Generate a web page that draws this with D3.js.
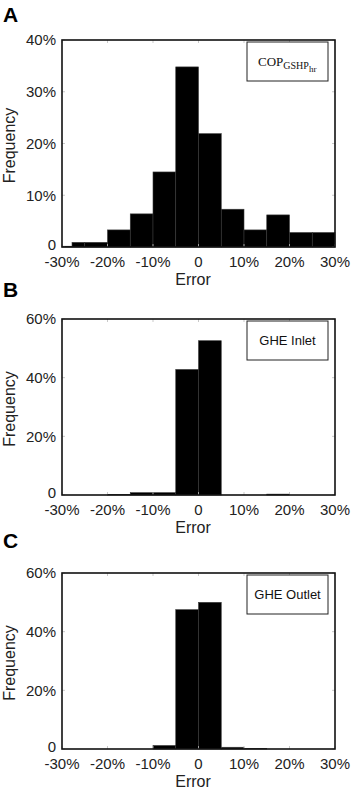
<!DOCTYPE html>
<html>
<head>
<meta charset="utf-8">
<script src="https://cdn.jsdelivr.net/npm/d3@7"></script>
<style>
  body { margin: 0; background: #fff; }
  svg { display: block; font-family: "Liberation Sans", Arial, sans-serif; }
</style>
</head>
<body>
<div id="chart"></div>
<script>
// error bins (%) and frequency (%)
const xTicks = [-30, -20, -10, 0, 10, 20, 30];
const edges = [-30, -25, -20, -15, -10, -5, 0, 5, 10, 15, 20, 25, 30];
const edgesA = [-30, -27.8, -25, -20, -15, -10, -5, 0, 5, 10, 15, 20, 25, 30];
const freqA = [0.15, 0.9, 0.9, 3.3, 6.4, 14.5, 34.8, 21.9, 7.3, 3.3, 6.2, 2.8, 2.8];
const freqB = [0, 0, 0.2, 0.8, 0.8, 42.8, 52.6, 0, 0, 0.3, 0, 0];
const freqC = [0, 0, 0, 0, 1.2, 47.5, 50.0, 0.6, 0.2, 0, 0, 0];
const yTicksA = [0, 10, 20, 30, 40];
const yTicksBC = [0, 20, 40, 60];

const W = 353, H = 798;
const svg = d3.select('#chart').append('svg')
  .attr('width', W).attr('height', H);

const x = d3.scaleLinear().domain([-30, 30]).range([62, 335]);
const pct = d => d === 0 ? '0' : d + '%';

const panels = [
  { letter: 'A', letterY: 22, top: 40, bottom: 247, ymax: 40, yTicks: yTicksA, edges: edgesA, freq: freqA, legend: 'cop' },
  { letter: 'B', letterY: 297, top: 319, bottom: 495, ymax: 60, yTicks: yTicksBC, edges: edges, freq: freqB, legend: 'GHE Inlet' },
  { letter: 'C', letterY: 548, top: 573, bottom: 749, ymax: 60, yTicks: yTicksBC, edges: edges, freq: freqC, legend: 'GHE Outlet' }
];

panels.forEach(p => {
  const g = svg.append('g');
  const y = d3.scaleLinear().domain([0, p.ymax]).range([p.bottom, p.top]);

  // panel letter
  g.append('text')
    .attr('x', 3).attr('y', p.letterY)
    .style('font-size', '21px').style('font-weight', 'bold')
    .text(p.letter);

  // bars
  const bins = p.freq.map((f, i) => ({ x0: p.edges[i], x1: p.edges[i + 1], f: f }));
  g.selectAll('rect.bar')
    .data(bins.filter(d => d.f > 0))
    .join('rect')
    .attr('class', 'bar')
    .attr('x', d => x(d.x0))
    .attr('width', d => x(d.x1) - x(d.x0))
    .attr('y', d => y(d.f))
    .attr('height', d => y(0) - y(d.f))
    .attr('fill', '#000')
    .attr('stroke', '#3a3a3a')
    .attr('stroke-width', 0.6);

  // inner tick marks on all four sides
  const tk = 3;
  xTicks.forEach(t => {
    g.append('line').attr('x1', x(t)).attr('x2', x(t))
      .attr('y1', p.bottom).attr('y2', p.bottom - tk)
      .attr('stroke', '#bbb').attr('stroke-width', 0.8);
    g.append('line').attr('x1', x(t)).attr('x2', x(t))
      .attr('y1', p.top).attr('y2', p.top + tk)
      .attr('stroke', '#bbb').attr('stroke-width', 0.8);
  });
  p.yTicks.forEach(t => {
    g.append('line').attr('x1', x(-30)).attr('x2', x(-30) + tk)
      .attr('y1', y(t)).attr('y2', y(t))
      .attr('stroke', '#bbb').attr('stroke-width', 0.8);
    g.append('line').attr('x1', x(30)).attr('x2', x(30) - tk)
      .attr('y1', y(t)).attr('y2', y(t))
      .attr('stroke', '#bbb').attr('stroke-width', 0.8);
  });

  // box
  g.append('rect')
    .attr('x', x(-30)).attr('y', p.top)
    .attr('width', x(30) - x(-30)).attr('height', p.bottom - p.top)
    .attr('fill', 'none').attr('stroke', '#111').attr('stroke-width', 1.6);

  // x axis labels
  g.append('g').selectAll('text')
    .data(xTicks)
    .join('text')
    .attr('x', d => x(d)).attr('y', p.bottom + 20)
    .attr('text-anchor', 'middle')
    .style('font-size', '15px').attr('fill', '#222')
    .text(pct);

  // y axis labels
  g.append('g').selectAll('text')
    .data(p.yTicks)
    .join('text')
    .attr('x', x(-30) - 6).attr('y', d => y(d))
    .attr('dy', d => d === 0 ? '0.2em' : '0.36em')
    .attr('text-anchor', 'end')
    .style('font-size', '15px').attr('fill', '#222')
    .text(pct);

  // axis titles
  g.append('text')
    .attr('x', 193).attr('y', p.bottom + 38)
    .attr('text-anchor', 'middle')
    .style('font-size', '16px').attr('fill', '#222')
    .text('Error');
  g.append('text')
    .attr('transform', 'translate(15,' + ((p.top + p.bottom) / 2 + 2) + ') rotate(-90)')
    .attr('text-anchor', 'middle')
    .style('font-size', '16px').attr('fill', '#222')
    .text('Frequency');

  // legend box
  const lx = 247, ly = p.top + 2, lw = 81, lh = 39;
  g.append('rect')
    .attr('x', lx).attr('y', ly).attr('width', lw).attr('height', lh)
    .attr('fill', '#fff').attr('stroke', '#222').attr('stroke-width', 1);
  if (p.legend === 'cop') {
    const t = g.append('text')
      .attr('x', lx + 11).attr('y', ly + 24)
      .style('font-family', '"Liberation Serif", "DejaVu Serif", serif')
      .style('font-size', '13px').attr('fill', '#111');
    t.append('tspan').text('COP');
    t.append('tspan').attr('dy', 3).style('font-size', '10px').text('GSHP');
    t.append('tspan').attr('dy', 3).style('font-size', '9px').text('hr');
  } else {
    g.append('text')
      .attr('x', lx + lw / 2).attr('y', ly + lh / 2)
      .attr('dy', '0.36em')
      .attr('text-anchor', 'middle')
      .style('font-size', '13px').attr('fill', '#111')
      .text(p.legend);
  }
});
</script>
</body>
</html>
